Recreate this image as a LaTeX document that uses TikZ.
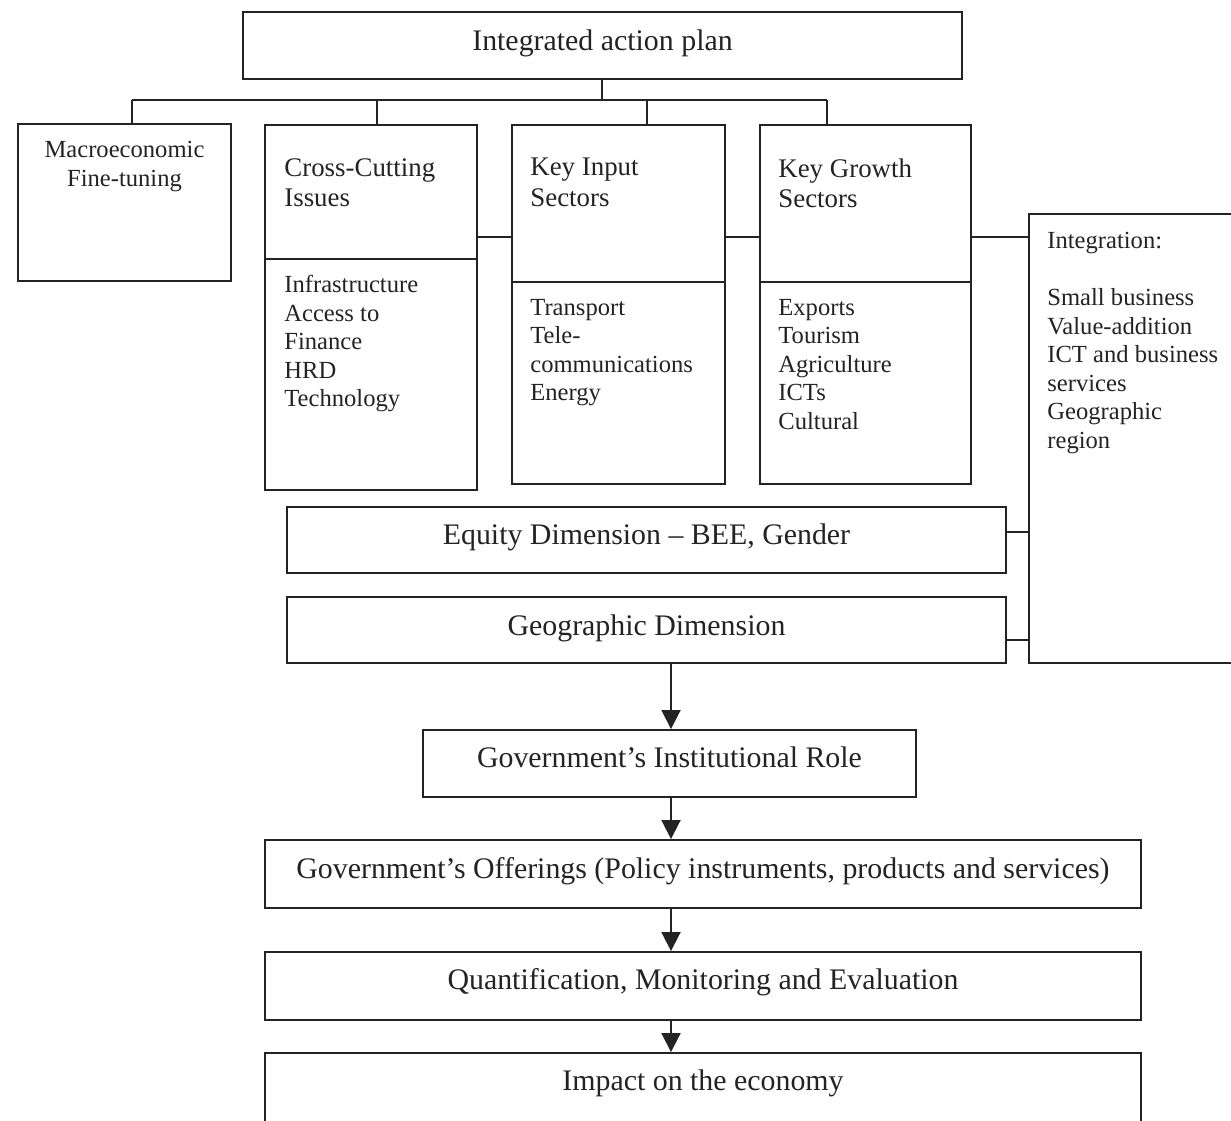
\documentclass[tikz,border=0pt]{standalone}
\usepackage{fontspec}
\setmainfont{Liberation Serif}
\usetikzlibrary{arrows.meta, positioning, fit}
\definecolor{mydark}{RGB}{35,35,35}
\tikzset{
  box/.style={rectangle, draw=mydark, line width=1.1pt, inner sep=0pt},
  bigtext/.style={font=\fontsize{17}{20}\selectfont, inner sep=0pt, text=mydark},
  headtext/.style={font=\fontsize{15.3}{17.2}\selectfont, align=left, inner sep=0pt, text=mydark},
  listtext/.style={font=\fontsize{14}{16.2}\selectfont, align=left, inner sep=0pt, text=mydark},
  line/.style={line width=1.1pt, color=mydark},
  arrow/.style={-{Triangle[width=0.38cm, length=0.38cm]}, line width=1.1pt, color=mydark}
}

\begin{document}
\begin{tikzpicture}[x=0.02cm, y=-0.02cm]
  \useasboundingbox (0,0) rectangle (1231,1120);

  % Integrated action plan
  \node[box, fit={(243,12) (962,79)}] (plan) {};
  \node[bigtext, anchor=base] (planLbl) at ([yshift=-0.78cm]plan.north) {Integrated action plan};

  % Branches
  \node[box, fit={(18,124) (231,281)}] (macro) {};
  \node[listtext, align=center, below=0.36cm of macro.north] (macroLbl) {Macroeconomic\\Fine-tuning};

  \node[box, fit={(265,125) (477,259)}] (ccHead) {};
  \node[box, fit={(265,259) (477,490)}] (ccBody) {};
  \node[headtext, below right=0.68cm and 0.4cm of ccHead.north west] (ccLbl) {Cross-Cutting\\Issues};
  \node[listtext, below right=0.34cm and 0.4cm of ccBody.north west] (ccList)
    {Infrastructure\\Access to\\Finance\\HRD\\Technology};

  \node[box, fit={(512,125) (725,282)}] (kiHead) {};
  \node[box, fit={(512,282) (725,484)}] (kiBody) {};
  \node[headtext, below right=0.68cm and 0.38cm of kiHead.north west] (kiLbl) {Key Input\\Sectors};
  \node[listtext, below right=0.36cm and 0.38cm of kiBody.north west] (kiList)
    {Transport\\Tele-\\communications\\Energy};

  \node[box, fit={(760,125) (971,282)}] (kgHead) {};
  \node[box, fit={(760,282) (971,484)}] (kgBody) {};
  \node[headtext, below right=0.68cm and 0.38cm of kgHead.north west] (kgLbl) {Key Growth\\Sectors};
  \node[listtext, below right=0.36cm and 0.38cm of kgBody.north west] (kgList)
    {Exports\\Tourism\\Agriculture\\ICTs\\Cultural};

  \node[box, fit={(1029,214) (1245,663)}] (integ) {};
  \node[listtext, below right=0.38cm and 0.38cm of integ.north west] (integLbl)
    {Integration:\\[16.4pt]Small business\\Value-addition\\ICT and business\\services\\Geographic\\region};

  % Dimensions
  \node[box, fit={(287,507) (1006,573)}] (equity) {};
  \node[bigtext, anchor=base] (equityLbl) at ([yshift=-0.76cm]equity.north) {Equity Dimension -- BEE, Gender};
  \node[box, fit={(287,597) (1006,663)}] (geo) {};
  \node[bigtext, anchor=base] (geoLbl) at ([yshift=-0.78cm]geo.north) {Geographic Dimension};

  % Government chain
  \node[box, fit={(423,730) (916,797)}] (inst) {};
  \node[bigtext, anchor=base] (instLbl) at ([yshift=-0.77cm]inst.north) {Government’s Institutional Role};
  \node[box, fit={(265,840) (1141,908)}] (offer) {};
  \node[bigtext, anchor=base] (offerLbl) at ([yshift=-0.78cm]offer.north) {Government’s Offerings (Policy instruments, products and services)};
  \node[box, fit={(265,952) (1141,1020)}] (quant) {};
  \node[bigtext, anchor=base] (quantLbl) at ([yshift=-0.77cm]quant.north) {Quantification, Monitoring and Evaluation};
  \node[box, fit={(265,1053) (1141,1135)}] (impact) {};
  \node[bigtext, anchor=base] (impactLbl) at ([yshift=-0.77cm]impact.north) {Impact on the economy};

  % Tree from the plan
  \draw[line] (plan.south -| 602,0) -- (602,100);
  \draw[line] (132,100) -- (827,100);
  \foreach \x/\n in {132/macro, 377/ccHead, 647/kiHead, 827/kgHead}
    \draw[line] (\x,100) -- (\n.north -| \x,0);

  % Side links
  \draw[line] (ccHead.east |- 0,237) -- (kiHead.west |- 0,237);
  \draw[line] (kiHead.east |- 0,237) -- (kgHead.west |- 0,237);
  \draw[line] (kgHead.east |- 0,237) -- (integ.west |- 0,237);
  \draw[line] (equity.east |- 0,532) -- (integ.west |- 0,532);
  \draw[line] (geo.east |- 0,640) -- (integ.west |- 0,640);

  % Arrows down
  \foreach \a/\b in {geo/inst, inst/offer, offer/quant, quant/impact}
    \draw[arrow] (\a.south -| 671,0) -- (\b.north -| 671,0);
\end{tikzpicture}
\end{document}
